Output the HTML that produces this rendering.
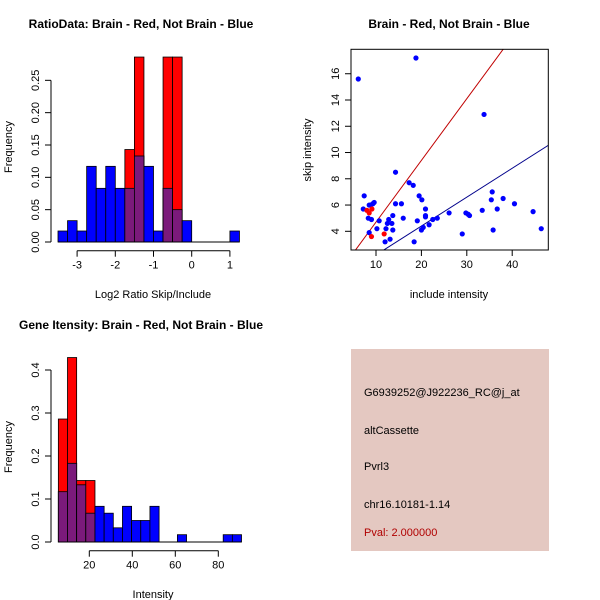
<!DOCTYPE html>
<html><head><meta charset="utf-8"><style>
body{margin:0;background:#fff}
svg{display:block;font-family:"Liberation Sans",sans-serif}
</style></head><body>
<svg id="c" width="600" height="600" xmlns="http://www.w3.org/2000/svg">
<rect width="600" height="600" fill="#fff"/>
<g font-weight="bold" font-size="12" text-anchor="middle">
<text x="141" y="28">RatioData: Brain - Red, Not Brain - Blue</text>
<text x="449" y="28">Brain - Red, Not Brain - Blue</text>
<text x="141" y="329">Gene Itensity: Brain - Red, Not Brain - Blue</text>
</g>
<g font-size="11" text-anchor="middle">
<text x="153" y="298">Log2 Ratio Skip/Include</text>
<text x="449" y="298">include intensity</text>
<text x="153" y="598">Intensity</text>
<text transform="translate(12,147) rotate(-90)">Frequency</text>
<text transform="translate(311,150) rotate(-90)">skip intensity</text>
<text transform="translate(12,447) rotate(-90)">Frequency</text>
</g>
<g id="p1"></g><g id="p2"></g><g id="p3"></g>
<g>
<rect x="351" y="349" width="198" height="202" fill="#e4c8c1"/>
<g font-size="11">
<text x="364" y="396">G6939252@J922236_RC@j_at</text>
<text x="364" y="434">altCassette</text>
<text x="364" y="470">Pvrl3</text>
<text x="364" y="508">chr16.10181-1.14</text>
<text x="364" y="536" fill="#b00000">Pval: 2.000000</text>
</g></g>
</svg>
<script>
// Ratio histogram data (bins start -3.5, width 0.25)
const ratioBinStart=-3.5, ratioBinWidth=0.25;
const ratioBlue=[0.017,0.033,0.017,0.117,0.083,0.117,0.083,0.083,0.133,0.117,0.017,0.083,0.05,0.033,0,0,0,0,0.017];
const ratioRed=[0,0,0,0,0,0,0,0.143,0.286,0,0,0.286,0.286,0,0,0,0,0,0];
const ratioYTicks=[0,0.05,0.1,0.15,0.2,0.25];
const ratioYLabels=["0.00","0.05","0.10","0.15","0.20","0.25"];
const ratioXTicks=[-3,-2,-1,0,1];
// Scatter data
const blueX=[6.1,18.8,33.8,14.3,17.3,18.2,7.4,7.2,8.5,8.8,9.3,9.6,8.3,9.0,10.2,8.5,10.7,12.2,12.5,12.8,13.7,13.5,13.7,12.0,13.1,18.4,14.3,15.6,16.0,19.1,19.5,20.1,20.9,20.9,20.9,20.4,20.0,21.7,22.5,23.5,26.1,29.0,29.8,30.3,30.6,33.4,35.6,35.4,36.7,38.0,40.5,35.8,44.6,46.4];
const blueY=[15.6,17.2,12.9,8.5,7.7,7.5,6.7,5.7,6.0,6.0,6.1,6.2,5.0,4.9,4.2,3.9,4.8,4.2,4.6,4.9,5.2,4.6,4.1,3.2,3.4,3.2,6.1,6.1,5.0,4.8,6.7,6.4,5.7,5.2,5.1,4.3,4.1,4.5,4.9,5.0,5.4,3.8,5.4,5.3,5.2,5.6,7.0,6.4,5.7,6.5,6.1,4.1,5.5,4.2];
const redX=[8.0,8.5,9.1,9.0,11.8];
const redY=[5.6,5.4,5.7,3.6,3.8];
const lineSlopes=[0.47,0.22];
const lineColors=["#c00000","#00008b"];
const scatterXTicks=[10,20,30,40];
const scatterYTicks=[4,6,8,10,12,14,16];
// Intensity histogram data
const intBinStart=5.6, intBinWidth=4.26;
const intBlue=[0.117,0.183,0.133,0.067,0.083,0.067,0.033,0.083,0.05,0.05,0.083,0,0,0.017,0,0,0,0,0.017,0.017];
const intRed=[0.286,0.429,0.143,0.143,0,0,0,0,0,0,0,0,0,0,0,0,0,0,0,0];
const intYTicks=[0,0.1,0.2,0.3,0.4];
const intYLabels=["0.0","0.1","0.2","0.3","0.4"];
const intXTicks=[20,40,60,80];

const NS="http://www.w3.org/2000/svg";
function mk(p,t,a){const e=document.createElementNS(NS,t);for(const k in a)e.setAttribute(k,a[k]);p.appendChild(e);return e;}
const PURPLE="#7b1a7b";

function hist(g,cfg){
  const sx=v=>cfg.px0+(v-cfg.x0)*cfg.kx, sy=v=>cfg.py0-v*cfg.ky;
  cfg.blue.forEach((b,i)=>{
    const r=cfg.red[i], l=sx(cfg.start+i*cfg.w), wd=cfg.w*cfg.kx;
    if(b>0){const e=mk(g,'rect',{x:l,y:sy(b),width:wd,height:b*cfg.ky,fill:'#0000ff',stroke:'#000','stroke-width':0.8});
      
      }
    if(r>0){const e=mk(g,'rect',{x:l,y:sy(r),width:wd,height:r*cfg.ky,fill:'#ff0000',stroke:'#000','stroke-width':0.8});
      
      }
    const m=Math.min(b,r);
    if(m>0){const e=mk(g,'rect',{x:l,y:sy(m),width:wd,height:m*cfg.ky,fill:PURPLE,stroke:'#000','stroke-width':0.8});
      
      }
  });
  // y axis
  const ya=mk(g,'g',{});
  
  
  const yt=cfg.yt;
  mk(ya,'line',{x1:cfg.ax,x2:cfg.ax,y1:sy(yt[0]),y2:sy(yt[yt.length-1]),stroke:'#000'});
  yt.forEach((v,i)=>{mk(ya,'line',{x1:cfg.ax-6,x2:cfg.ax,y1:sy(v),y2:sy(v),stroke:'#000'});
    const t=mk(ya,'text',{transform:`translate(${cfg.ax-12},${sy(v)}) rotate(-90)`,'text-anchor':'middle','font-size':11});t.textContent=cfg.yl[i];
    
    });
  const xa=mk(g,'g',{});
  
  
  const xt=cfg.xt;
  mk(xa,'line',{x1:sx(xt[0]),x2:sx(xt[xt.length-1]),y1:cfg.ay,y2:cfg.ay,stroke:'#000'});
  xt.forEach(v=>{mk(xa,'line',{x1:sx(v),x2:sx(v),y1:cfg.ay,y2:cfg.ay+6,stroke:'#000'});
    const t=mk(xa,'text',{x:sx(v),y:cfg.ay+18,'text-anchor':'middle','font-size':11});t.textContent=v;
    
    });
  // baseline
  mk(g,'line',{x1:sx(cfg.start),x2:sx(cfg.start+cfg.blue.length*cfg.w),y1:cfg.py0,y2:cfg.py0,stroke:'#000'});
}
const g1=document.getElementById('p1');


hist(g1,{px0:191.7,x0:0,kx:38.2,py0:242,ky:646.7,start:ratioBinStart,w:ratioBinWidth,blue:ratioBlue,red:ratioRed,yt:ratioYTicks,yl:ratioYLabels,xt:ratioXTicks,ax:51,ay:250.7});
const g3=document.getElementById('p3');


hist(g3,{px0:89.3,x0:20,kx:2.15,py0:542,ky:430,start:intBinStart,w:intBinWidth,blue:intBlue,red:intRed,yt:intYTicks,yl:intYLabels,xt:intXTicks,ax:51,ay:550.7});

// scatter
const g2=document.getElementById('p2');


const L=351,R=548.3,T=49.3,B=250;
const sx=v=>376+(v-10)*4.54, sy=v=>231.3-(v-4)*13.13;
mk(g2,'defs',{}).innerHTML='<clipPath id="cp"><rect x="351" y="49.3" width="197.3" height="200.7"/></clipPath>';
const lg=mk(g2,'g',{'clip-path':'url(#cp)'});
lineSlopes.forEach((s,i)=>{const e=mk(lg,'line',{x1:sx(0),y1:sy(0),x2:sx(60),y2:sy(60*s),stroke:lineColors[i],'stroke-width':1});
  
  });
blueX.forEach((x,i)=>{const e=mk(lg,'circle',{cx:sx(x),cy:sy(blueY[i]),r:2.6,fill:'#0000ff'});
  
  });
redX.forEach((x,i)=>{const e=mk(lg,'circle',{cx:sx(x),cy:sy(redY[i]),r:2.6,fill:'#ff0000'});
  
  });
const box=mk(g2,'rect',{x:L,y:T,width:R-L,height:B-T,fill:'none',stroke:'#000'});


scatterXTicks.forEach(v=>{mk(g2,'line',{x1:sx(v),x2:sx(v),y1:B,y2:B+6,stroke:'#000'});
  const t=mk(g2,'text',{x:sx(v),y:B+18,'text-anchor':'middle','font-size':11});t.textContent=v;
  
  });
scatterYTicks.forEach(v=>{mk(g2,'line',{x1:L-6,x2:L,y1:sy(v),y2:sy(v),stroke:'#000'});
  const t=mk(g2,'text',{transform:`translate(${L-12},${sy(v)}) rotate(-90)`,'text-anchor':'middle','font-size':11});t.textContent=v;
  
  });
</script>
</body></html>
